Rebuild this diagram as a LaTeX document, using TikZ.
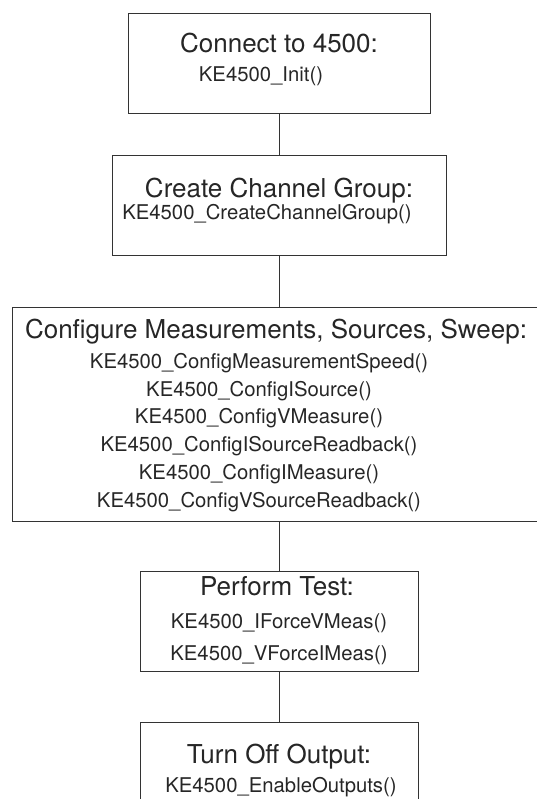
\documentclass[tikz,border=0pt]{standalone}
\usepackage{fontspec}
\setmainfont{TeX Gyre Heros}
\usepackage{tikz}
\usetikzlibrary{positioning, calc}

\begin{document}
\begin{tikzpicture}[
        x=1pt, y=1pt,
        box/.style={draw=black!80, line width=0.8pt, inner sep=0pt, minimum height=100pt},
        head/.style={anchor=base, inner sep=0pt, text=black!85, font=\fontsize{26}{31}\selectfont},
        call/.style={anchor=base, inner sep=0pt, text=black!85, align=center, font=\fontsize{20.3}{27.8}\selectfont}
    ]

    \useasboundingbox (0,0) rectangle (537,-799);

    % --- Boxes ---
    \node[box, minimum width=302pt] (conn) at (279,-63) {};
    \node[box, minimum width=334pt, below=42pt of conn] (group) {};
    \node[box, minimum width=534pt, minimum height=214pt, below=51pt of group] (config) {};
    \node[box, minimum width=278pt, below=49pt of config] (test) {};
    \node[box, minimum width=278pt, below=50pt of test] (off) {};

    % --- Texts (multi-line nodes sit on their last baseline) ---
    \node[head] (connT) at ([yshift=-40pt]conn.north) {Connect to 4500:};
    \node[call] (connC) at ([xshift=-18pt, yshift=-69pt]conn.north) {KE4500\_Init()};

    \node[head] (groupT) at ([yshift=-42.5pt]group.north) {Create Channel Group:};
    \node[call] (groupC) at ([xshift=-12pt, yshift=-64.5pt]group.north) {KE4500\_CreateChannelGroup()};

    \node[head] (configT) at ([xshift=-3pt, yshift=-31pt]config.north) {Configure Measurements, Sources, Sweep:};
    \node[call] (configC) at ([xshift=-20pt, yshift=-200pt]config.north) {
        KE4500\_ConfigMeasurementSpeed()\\
        KE4500\_ConfigISource()\\
        KE4500\_ConfigVMeasure()\\
        KE4500\_ConfigISourceReadback()\\
        KE4500\_ConfigIMeasure()\\
        KE4500\_ConfigVSourceReadback()};

    \node[head] (testT) at ([xshift=-2pt, yshift=-24.5pt]test.north) {Perform Test:};
    \node[call, font=\fontsize{20.3}{32.5}\selectfont] (testC) at ([yshift=-89.5pt]test.north) {
        KE4500\_IForceVMeas()\\
        KE4500\_VForceIMeas()};

    \node[head] (offT) at ([yshift=-42pt]off.north) {Turn Off Output:};
    \node[call] (offC) at ([xshift=2pt, yshift=-71pt]off.north) {KE4500\_EnableOutputs()};

    % --- Connectors ---
    \draw[draw=black!80, line width=0.8pt] (conn.south) -- (group.north);
    \draw[draw=black!80, line width=0.8pt] (group.south) -- (config.north);
    \draw[draw=black!80, line width=0.8pt] (config.south) -- (test.north);
    \draw[draw=black!80, line width=0.8pt] (test.south) -- (off.north);

\end{tikzpicture}
\end{document}
